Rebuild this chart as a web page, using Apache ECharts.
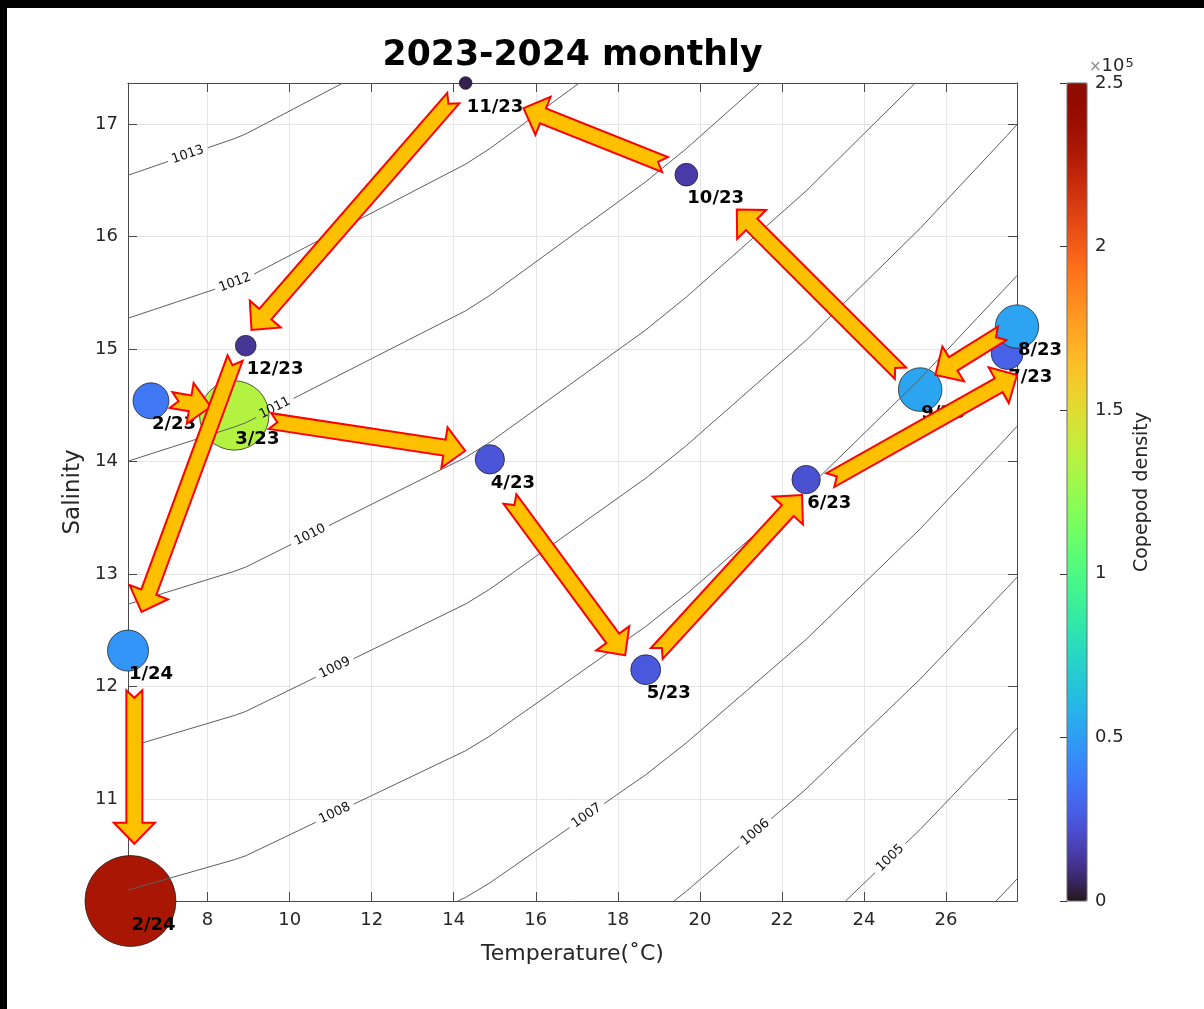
<!DOCTYPE html>
<html>
<head>
<meta charset="utf-8">
<script src="https://cdn.jsdelivr.net/npm/echarts@6/dist/echarts.min.js"></script>
<style>
  html, body { margin: 0; padding: 0; background: #ffffff; }
  #chart { width: 1204px; height: 1009px; }
</style>
</head>
<body>
<div id="chart"></div>
<script>
// Monthly T-S samples, Feb 2023 - Feb 2024
const months = ['2/23', '3/23', '4/23', '5/23', '6/23', '7/23', '8/23', '9/23', '10/23', '11/23', '12/23', '1/24', '2/24'];
const temperature = [6.62, 8.65, 14.88, 18.68, 22.59, 27.49, 27.73, 25.37, 19.67, 14.29, 8.93, 6.06, 6.12];
const salinity = [14.54, 14.41, 14.02, 12.15, 13.84, 14.96, 15.20, 14.64, 16.55, 17.365, 15.03, 12.32, 10.094];
const copepodDensity = [36000, 134500, 24000, 25000, 22500, 28500, 52500, 53000, 14500, 4500, 12000, 47000, 231000];

// Axis ticks
const xTicks = [8, 10, 12, 14, 16, 18, 20, 22, 24, 26];
const yTicks = [11, 12, 13, 14, 15, 16, 17];
const colorTicks = [0, 50000, 100000, 150000, 200000, 250000];

// Isopycnals (kg/m^3), vertices as [temperature, salinity]
const contourLevels = [1004, 1005, 1006, 1007, 1008, 1009, 1010, 1011, 1012, 1013];
const isopycnal1004 = [[27.22, 10.094], [27.49, 10.196], [27.73, 10.290]];
const isopycnal1005 = [[23.55, 10.094], [25.37, 10.730], [27.49, 11.537], [27.73, 11.631]];
const isopycnal1006 = [[19.37, 10.094], [19.67, 10.180], [22.59, 11.090], [25.37, 12.066], [27.49, 12.878], [27.73, 12.972]];
const isopycnal1007 = [[14.10, 10.094], [14.29, 10.126], [14.88, 10.255], [18.68, 11.216], [19.67, 11.500], [22.59, 12.419], [25.37, 13.402], [27.49, 14.218], [27.73, 14.314]];
const isopycnal1008 = [[6.06, 10.191], [8.65, 10.461], [8.93, 10.496], [14.29, 11.430], [14.88, 11.560], [18.68, 12.534], [19.67, 12.821], [22.59, 13.748], [25.37, 14.737], [27.49, 15.559], [27.73, 15.654]];
const isopycnal1009 = [[6.06, 11.461], [8.65, 11.743], [8.93, 11.779], [14.29, 12.734], [14.88, 12.866], [18.68, 13.852], [19.67, 14.142], [22.59, 15.077], [25.37, 16.073], [27.49, 16.899], [27.73, 16.995]];
const isopycnal1010 = [[6.06, 12.732], [8.65, 13.024], [8.93, 13.062], [14.29, 14.037], [14.88, 14.171], [18.68, 15.170], [19.67, 15.462], [22.59, 16.405], [25.25, 17.365]];
const isopycnal1011 = [[6.06, 14.003], [8.65, 14.307], [8.93, 14.345], [14.29, 15.340], [14.88, 15.477], [18.68, 16.487], [19.67, 16.782], [21.47, 17.365]];
const isopycnal1012 = [[6.06, 15.274], [8.65, 15.589], [8.93, 15.628], [14.29, 16.644], [14.88, 16.782], [17.06, 17.365]];
const isopycnal1013 = [[6.06, 16.545], [8.65, 16.870], [8.93, 16.912], [11.30, 17.365]];
const isopycnals = [isopycnal1004, isopycnal1005, isopycnal1006, isopycnal1007, isopycnal1008,
                    isopycnal1009, isopycnal1010, isopycnal1011, isopycnal1012, isopycnal1013];

// Where each isopycnal carries its label (temperature along the line)
const contourLabelLevel = [1005, 1006, 1007, 1008, 1009, 1010, 1011, 1012, 1013];
const contourLabelTemp = [24.64, 21.35, 17.24, 11.10, 11.10, 10.50, 9.64, 8.67, 7.52];

// Month-to-month arrows: tail and tip as [temperature, salinity]
const arrowTail = [[7.11, 14.547], [9.52, 14.36], [15.37, 13.667], [18.95, 12.294], [23.18, 13.835], [27.37, 15.14],
                   [24.89, 14.785], [19.15, 16.64], [13.99, 17.231], [8.67, 14.92], [6.215, 11.967]];
const arrowTip = [[8.08, 14.487], [14.28, 14.096], [18.18, 12.279], [22.49, 13.702], [27.73, 14.77], [25.74, 14.77],
                  [20.90, 16.24], [15.70, 17.142], [9.07, 15.17], [6.39, 12.664], [6.215, 10.603]];

// ---- layout & style ----
const FONT = '"DejaVu Sans", "Noto Sans", sans-serif';
const PLOT = { left: 128, top: 83, width: 889, height: 818 };
const CBAR = { left: 1067, top: 83, width: 20, height: 818 };
const AREA_PER_UNIT = 895 / 1e5;           // marker area (px^2) per individual
const ARROW = { shaftHalf: 8, headHalf: 20.5, headLen: 21, notch: 7.5, fill: '#ffc000', stroke: '#ff0000' };
const AXIS_COLOR = '#4a4a4a';
const TEXT_COLOR = '#262626';
const GRID_COLOR = '#e6e6e6';

// Turbo colormap
function turbo(t) {
  const r = 0.13572138 + t * (4.61539260 + t * (-42.66032258 + t * (132.13108234 + t * (-152.94239396 + t * 59.28637943))));
  const g = 0.09140261 + t * (2.19418839 + t * (4.84296658 + t * (-14.18503333 + t * (4.27729857 + t * 2.82956604))));
  const b = 0.10667330 + t * (12.64194608 + t * (-60.58204836 + t * (110.36276771 + t * (-89.90310912 + t * 27.34824973))));
  const c = v => Math.round(255 * Math.max(0, Math.min(1, v)));
  return 'rgb(' + c(r) + ',' + c(g) + ',' + c(b) + ')';
}
const turboStops = [];
for (let i = 0; i <= 48; i++) turboStops.push(turbo(i / 48));

const xMin = Math.min(...temperature), xMax = Math.max(...temperature);
const yMin = Math.min(...salinity), yMax = Math.max(...salinity);

// split a pixel polyline, leaving a gap of half-width g around arc length s0
function splitAround(pts, s0, g) {
  const before = [pts[0]], after = [];
  let acc = 0;
  const cut = (a, b, f) => [a[0] + (b[0] - a[0]) * f, a[1] + (b[1] - a[1]) * f];
  for (let i = 0; i < pts.length - 1; i++) {
    const a = pts[i], b = pts[i + 1];
    const len = Math.hypot(b[0] - a[0], b[1] - a[1]);
    const s1 = acc, s2 = acc + len;
    if (s2 <= s0 - g) before.push(b);
    else {
      if (s1 < s0 - g) before.push(cut(a, b, (s0 - g - s1) / len));
      if (s2 > s0 + g) {
        if (s1 >= s0 + g) { if (!after.length) after.push(a); after.push(b); }
        else { after.push(cut(a, b, (s0 + g - s1) / len)); after.push(b); }
      }
    }
    acc = s2;
  }
  return [before, after];
}

function renderContour(params, api) {
  const k = api.value(2);
  const level = contourLevels[k];
  const line = isopycnals[k];
  const pts = line.map(p => api.coord(p));
  const lineStyle = { stroke: '#5e5e5e', lineWidth: 1, fill: null };
  const li = contourLabelLevel.indexOf(level);
  if (li < 0) {
    return { type: 'polyline', shape: { points: pts }, style: lineStyle };
  }
  const tl = contourLabelTemp[li];
  let j = 0;
  while (j < line.length - 2 && line[j + 1][0] < tl) j++;
  const f = (tl - line[j][0]) / (line[j + 1][0] - line[j][0]);
  const sl = line[j][1] + f * (line[j + 1][1] - line[j][1]);
  const lp = api.coord([tl, sl]);
  let s0 = 0;
  for (let i = 0; i < j; i++) s0 += Math.hypot(pts[i + 1][0] - pts[i][0], pts[i + 1][1] - pts[i][1]);
  s0 += Math.hypot(lp[0] - pts[j][0], lp[1] - pts[j][1]);
  const ang = Math.atan2(pts[j + 1][1] - pts[j][1], pts[j + 1][0] - pts[j][0]);
  const parts = splitAround(pts, s0, 21);
  const children = [];
  parts.forEach(p => { if (p.length > 1) children.push({ type: 'polyline', shape: { points: p }, style: lineStyle }); });
  children.push({
    type: 'text', x: lp[0], y: lp[1], rotation: -ang,
    style: { text: String(level), font: '13px ' + FONT, fill: '#111', align: 'center', verticalAlign: 'middle' }
  });
  return { type: 'group', children };
}

function renderArrow(params, api) {
  const i = api.value(4);
  const p0 = api.coord(arrowTail[i]);
  const p1 = api.coord(arrowTip[i]);
  const dx = p1[0] - p0[0], dy = p1[1] - p0[1], L = Math.hypot(dx, dy);
  const ux = dx / L, uy = dy / L, nx = -uy, ny = ux;
  const hl = Math.min(ARROW.headLen, L * 0.55), hw = ARROW.headHalf, w = ARROW.shaftHalf, nd = ARROW.notch;
  const bx = p1[0] - ux * hl, by = p1[1] - uy * hl;
  const points = [
    [p1[0], p1[1]],
    [bx + nx * hw, by + ny * hw],
    [bx + nx * w, by + ny * w],
    [p0[0] + nx * w, p0[1] + ny * w],
    [p0[0] + ux * nd, p0[1] + uy * nd],
    [p0[0] - nx * w, p0[1] - ny * w],
    [bx - nx * w, by - ny * w],
    [bx - nx * hw, by - ny * hw]
  ];
  return { type: 'polygon', shape: { points }, style: { fill: ARROW.fill, stroke: ARROW.stroke, lineWidth: 2, lineJoin: 'miter' } };
}

function renderMonth(params, api) {
  const p = api.coord([api.value(0), api.value(1)]);
  return {
    type: 'text', x: p[0] + 1, y: p[1] + 24,
    style: { text: months[api.value(2)], font: 'bold 18px ' + FONT, fill: '#000', align: 'left', verticalAlign: 'middle' }
  };
}

const tickStyle = { inside: true, length: 9, lineStyle: { color: AXIS_COLOR } };

const option = {
  animation: false,
  backgroundColor: '#ffffff',
  textStyle: { fontFamily: FONT },
  title: {
    text: '2023-2024 monthly', padding: 0,
    left: PLOT.left + PLOT.width / 2, top: 38, textAlign: 'center',
    textStyle: { fontSize: 34.7, fontWeight: 'bold', color: '#000', fontFamily: FONT }
  },
  graphic: [
    { type: 'rect', shape: { x: 0, y: 0, width: 1204, height: 8 }, style: { fill: '#000' }, z: 100 },
    { type: 'rect', shape: { x: 0, y: 0, width: 7, height: 1009 }, style: { fill: '#000' }, z: 100 },
    { type: 'rect', shape: { x: CBAR.left, y: CBAR.top, width: CBAR.width, height: CBAR.height },
      style: { fill: null, stroke: '#6a6a6a', lineWidth: 1 }, z: 100 },
    { type: 'text', x: CBAR.left + CBAR.width + 2, y: 75, z: 100,
      style: {
        text: '{x|×}{b|10}{s|5}', verticalAlign: 'bottom', align: 'left',
        rich: {
          x: { fontSize: 15, fill: '#8a8a8a', fontFamily: FONT, verticalAlign: 'bottom' },
          b: { fontSize: 18, fill: TEXT_COLOR, fontFamily: FONT, verticalAlign: 'bottom' },
          s: { fontSize: 13, fill: TEXT_COLOR, fontFamily: FONT, verticalAlign: 'top', padding: [0, 0, 0, 1] }
        }
      } }
  ],
  grid: [
    { left: PLOT.left, top: PLOT.top, width: PLOT.width, height: PLOT.height },
    { left: CBAR.left, top: CBAR.top, width: CBAR.width, height: CBAR.height }
  ],
  xAxis: [
    {
      type: 'value', gridIndex: 0, min: xMin, max: xMax,
      name: 'Temperature(˚C)', nameLocation: 'middle', nameGap: 42,
      nameTextStyle: { fontSize: 22, color: TEXT_COLOR },
      axisLine: { show: true, lineStyle: { color: AXIS_COLOR } },
      axisTick: Object.assign({ customValues: xTicks }, tickStyle),
      axisLabel: { customValues: xTicks, fontSize: 18, color: TEXT_COLOR, margin: 10 },
      splitLine: { show: true, lineStyle: { color: GRID_COLOR } }
    },
    {
      type: 'value', gridIndex: 0, position: 'top', min: xMin, max: xMax,
      axisLine: { show: true, lineStyle: { color: AXIS_COLOR } },
      axisTick: Object.assign({ customValues: xTicks }, tickStyle),
      axisLabel: { show: false }, splitLine: { show: false }
    },
    { type: 'value', gridIndex: 1, min: 0, max: 1, show: false }
  ],
  yAxis: [
    {
      type: 'value', gridIndex: 0, min: yMin, max: yMax,
      name: 'Salinity', nameLocation: 'middle', nameGap: 38, nameRotate: 90,
      nameTextStyle: { fontSize: 23, color: TEXT_COLOR },
      axisLine: { show: true, lineStyle: { color: AXIS_COLOR } },
      axisTick: Object.assign({ customValues: yTicks }, tickStyle),
      axisLabel: { customValues: yTicks, fontSize: 18, color: TEXT_COLOR, margin: 10 },
      splitLine: { show: true, lineStyle: { color: GRID_COLOR } }
    },
    {
      type: 'value', gridIndex: 0, position: 'right', min: yMin, max: yMax,
      axisLine: { show: true, lineStyle: { color: AXIS_COLOR } },
      axisTick: Object.assign({ customValues: yTicks }, tickStyle),
      axisLabel: { show: false }, splitLine: { show: false }
    },
    {
      type: 'value', gridIndex: 1, position: 'right', min: 0, max: 250000, z: 20,
      axisLine: { show: false },
      axisTick: { show: true, inside: true, length: 7, customValues: colorTicks, lineStyle: { color: '#333' } },
      axisLabel: { customValues: colorTicks, fontSize: 18, color: TEXT_COLOR, margin: 8, formatter: v => String(v / 1e5) },
      splitLine: { show: false }
    },
    {
      type: 'value', gridIndex: 1, position: 'right', min: 0, max: 250000,
      axisLine: { show: false }, axisTick: { show: false }, axisLabel: { show: false }, splitLine: { show: false },
      name: 'Copepod density', nameLocation: 'middle', nameGap: 46, nameRotate: 90,
      nameTextStyle: { fontSize: 19, color: TEXT_COLOR }
    }
  ],
  visualMap: {
    type: 'continuous', seriesIndex: 0, dimension: 2, min: 0, max: 250000,
    orient: 'vertical', left: CBAR.left, top: CBAR.top, itemWidth: CBAR.width, itemHeight: CBAR.height,
    calculable: false, hoverLink: false, padding: 0, text: null, showLabel: false, z: 4,
    inRange: { color: turboStops }
  },
  series: [
    {
      type: 'scatter', xAxisIndex: 0, yAxisIndex: 0, z: 2, silent: true,
      data: months.map((m, i) => [temperature[i], salinity[i], copepodDensity[i]]),
      symbolSize: v => 2 * Math.sqrt(AREA_PER_UNIT * v[2]),
      itemStyle: { opacity: 1, borderColor: 'rgba(30,30,30,0.75)', borderWidth: 1 }
    },
    {
      type: 'custom', xAxisIndex: 0, yAxisIndex: 0, z: 3, silent: true, clip: false,
      data: isopycnals.map((line, k) => [line[0][0], line[0][1], k]),
      renderItem: renderContour
    },
    {
      type: 'custom', xAxisIndex: 0, yAxisIndex: 0, z: 4, silent: true, clip: false,
      data: months.map((m, i) => [temperature[i], salinity[i], i]),
      renderItem: renderMonth
    },
    {
      type: 'custom', xAxisIndex: 0, yAxisIndex: 0, z: 5, silent: true, clip: false,
      data: arrowTail.map((p, i) => [p[0], p[1], arrowTip[i][0], arrowTip[i][1], i]),
      renderItem: renderArrow
    }
  ]
};

const chart = echarts.init(document.getElementById('chart'), null, { renderer: 'canvas' });
chart.setOption(option);
</script>
</body>
</html>
